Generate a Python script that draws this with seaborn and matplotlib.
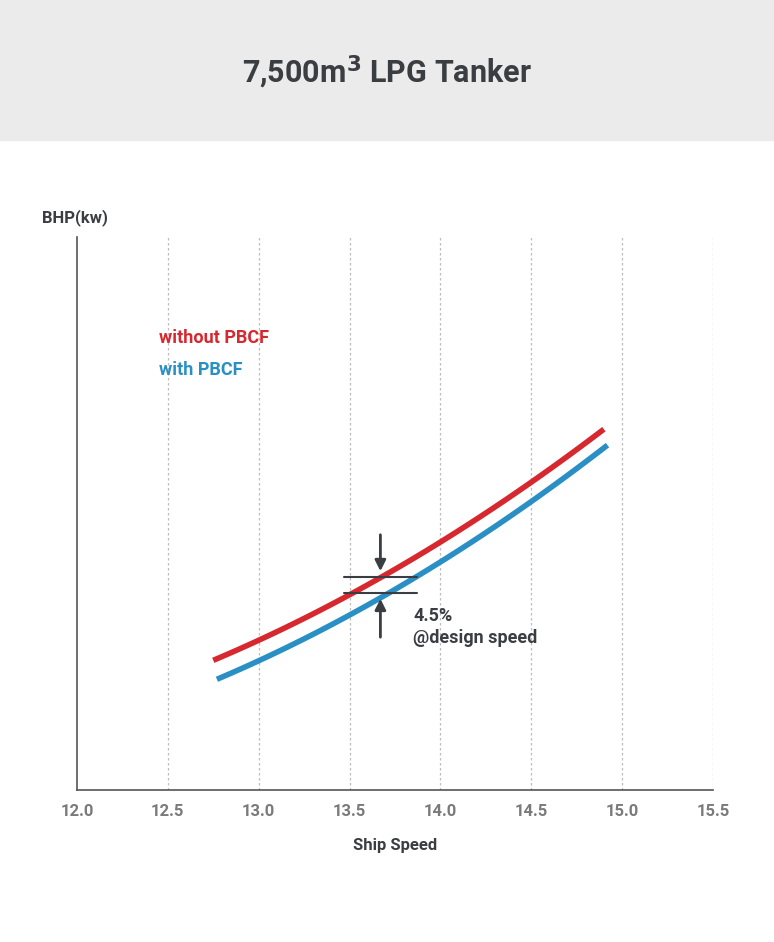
import numpy as np
import seaborn as sns
import matplotlib.pyplot as plt
from matplotlib.patches import Rectangle

# Curve data (BHP in arbitrary units)
speed_without = [12.75, 13.0, 13.5, 14.0, 14.5, 14.9]
bhp_without = [128, 150, 200, 245, 305, 363]
speed_with = [12.77, 13.0, 13.5, 14.0, 14.5, 14.92]
bhp_with = [109, 130, 178, 227, 285, 347]
x_ticks = [12.0, 12.5, 13.0, 13.5, 14.0, 14.5, 15.0, 15.5]

red = "#d7282f"
blue = "#2a8fc4"
dark = "#3a3d42"
grey = "#7a7a7a"

sns.set_style("white")
plt.rcParams["font.family"] = "Roboto"

fig = plt.figure(figsize=(7.74, 9.42), dpi=100)
fig.patches.append(Rectangle((0, 1 - 140 / 942), 1, 140 / 942, transform=fig.transFigure,
                             color="#ebebeb", zorder=0))
fig.text(0.5, 1 - 72 / 942, r"7,500m$^\mathbf{3}$ LPG Tanker", ha="center", va="center",
         fontsize=22, fontweight="bold", color=dark)

ax = fig.add_axes([0.0995, 0.1614, 0.8215, 0.587])

def smooth(xs, ys):
    c = np.polyfit(xs, ys, 2)
    xx = np.linspace(xs[0], xs[-1], 100)
    return xx, np.polyval(c, xx)

xr, yr = smooth(speed_without, bhp_without)
xb, yb = smooth(speed_with, bhp_with)
sns.lineplot(x=xr, y=yr, ax=ax, color=red, lw=4, solid_capstyle="butt")
sns.lineplot(x=xb, y=yb, ax=ax, color=blue, lw=4, solid_capstyle="butt")

ax.set_xlim(12.0, 15.5)
ax.set_ylim(0, 553)
ax.set_xticks(x_ticks)
ax.set_xticklabels([f"{t:.1f}" for t in x_ticks], fontsize=12, fontweight="bold", color=grey)
ax.set_yticks([])
ax.tick_params(axis="x", length=0, pad=10)
for t in x_ticks[1:]:
    ax.axvline(t, color="#bdbdbd", lw=0.9, ls=(0, (2, 2)), zorder=0)
for s in ["top", "right"]:
    ax.spines[s].set_visible(False)
for s in ["left", "bottom"]:
    ax.spines[s].set_color("#555555")
    ax.spines[s].set_linewidth(1.2)

ax.set_xlabel("Ship Speed", fontsize=12, fontweight="bold", color=dark, labelpad=14)
fig.text(42 / 774, 1 - 218 / 942, "BHP(kw)", fontsize=12, fontweight="bold", color=dark, va="center")

ax.text(12.45, 452, "without PBCF", color=red, fontsize=13, fontweight="bold", va="center")
ax.text(12.45, 420, "with PBCF", color=blue, fontsize=13, fontweight="bold", va="center")

# design speed annotation
ax.plot([13.47, 13.87], [213, 213], color=dark, lw=1.5)
ax.plot([13.47, 13.87], [197, 197], color=dark, lw=1.5)
ax.annotate("", xy=(13.67, 216), xytext=(13.67, 258),
            arrowprops=dict(arrowstyle="-|>", color=dark, lw=2, mutation_scale=16))
ax.annotate("", xy=(13.67, 194), xytext=(13.67, 150),
            arrowprops=dict(arrowstyle="-|>", color=dark, lw=2, mutation_scale=16))
ax.text(13.85, 163, "4.5%\n@design speed", fontsize=13, fontweight="bold", color=dark,
        va="center", linespacing=1.25)

fig.savefig("out.png", dpi=100)
